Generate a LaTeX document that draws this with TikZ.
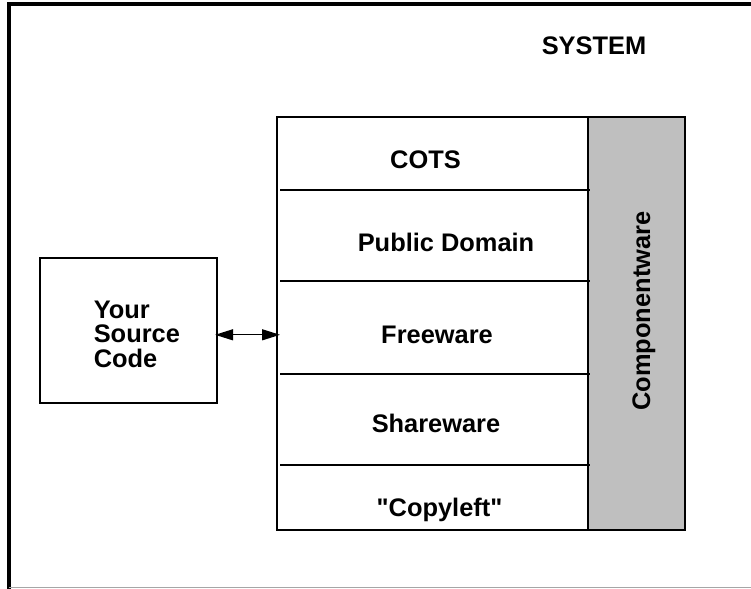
\documentclass[tikz,border=0pt]{standalone}
\usepackage{fontspec}
\setmainfont{Liberation Sans}
\usetikzlibrary{arrows.meta}
\definecolor{compgrey}{RGB}{191,191,191}

\begin{document}
\begin{tikzpicture}[x=1pt,y=-1pt,line width=1.6pt,
  every node/.style={font=\fontsize{25.4}{24.4}\selectfont\bfseries, inner sep=0pt},
  box/.style={draw, anchor=north west},
  lbl/.style={anchor=base}]
\useasboundingbox (0,0) rectangle (751,588);
\draw[line width=4pt] (760,4.5) -- (8.5,4.5) -- (8.5,590);
\draw[line width=1pt, black!35] (8.5,587.5) -- (760,587.5);

\node[lbl] (system) at (594,54.3) {SYSTEM};

\node[box, minimum width=177, minimum height=145] (src) at (39,257) {};
\node[anchor=base west, align=left] (srctext) at (93,367) {Your\\Source\\Code};

\node[box, minimum width=311, minimum height=413] (stack) at (276,116) {};
\node[box, fill=compgrey, minimum width=97, minimum height=413] (comp) at (587,116) {};
\foreach \y in {190,281,374,465}
  \draw[line width=1.3pt] (280,\y) -- (590,\y);

\node[lbl] (cots) at (425.5,168.3) {COTS};
\node[lbl] (pubdom) at (446,251) {Public Domain};
\node[lbl] (free) at (437,343) {Freeware};
\node[lbl] (share) at (436,432) {Shareware};
\node[lbl] (copyleft) at (439.5,516) {\textquotedbl Copyleft\textquotedbl};
\node[lbl, rotate=90] (compname) at (650,311) {Componentware};

\draw[{Triangle[length=18pt,width=11pt]}-{Triangle[length=18pt,width=11pt]}, line width=1.3pt,
  shorten <=-2.5pt, shorten >=-4pt] ([yshift=-4.5pt]src.east) -- ([yshift=-4.5pt]src.east -| stack.west);
\end{tikzpicture}
\end{document}
